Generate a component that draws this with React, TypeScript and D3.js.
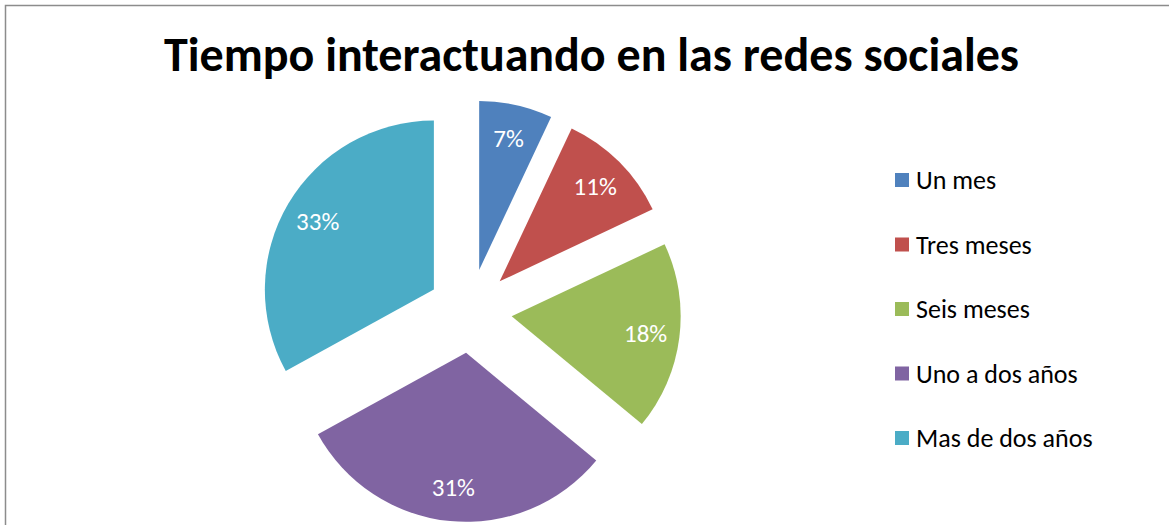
import React from "react";
import * as d3 from "d3";

const title = "Tiempo interactuando en las redes sociales";
const categories = ["Un mes", "Tres meses", "Seis meses", "Uno a dos años", "Mas de dos años"];
const values = [7, 11, 18, 31, 33];
const colors = ["#4F81BD", "#C0504D", "#9BBB59", "#8064A2", "#4BACC6"];

const W = 1169;
const H = 525;
const FONT = "Carlito, Calibri, Lato, 'Open Sans', sans-serif";

export default function App() {
  const cx = 470;
  const cy = 311;
  const r = 169;
  const explode = 42;
  const labelR = 135;

  const total = d3.sum(values);
  const pie = d3.pie<number>().sort(null).value((v) => v);
  const arcs = pie(values);
  const arcGen = d3.arc<d3.PieArcDatum<number>>().innerRadius(0).outerRadius(r);

  const legendY = d3.scalePoint<string>().domain(categories).range([180, 438]);

  return (
    <svg width={W} height={H} style={{ position: "absolute", left: 0, top: 0, background: "#fff" }}>
      <rect x={0} y={0} width={W} height={H} fill="#fff" />
      <rect x={5.5} y={5.5} width={W + 20} height={H + 20} fill="none" stroke="#8c8c8c" strokeWidth={1.5} />
      <text
        x={591.5}
        y={71}
        textAnchor="middle"
        fontFamily={FONT}
        fontWeight="bold"
        fontSize={48}
        fill="#000"
      >
        {title}
      </text>
      {arcs.map((a, i) => {
        const mid = (a.startAngle + a.endAngle) / 2;
        const dx = Math.sin(mid) * explode;
        const dy = -Math.cos(mid) * explode;
        const lx = Math.sin(mid) * labelR;
        const ly = -Math.cos(mid) * labelR;
        return (
          <g key={categories[i]} transform={`translate(${cx + dx},${cy + dy})`}>
            <path d={arcGen(a) || ""} fill={colors[i]} />
            <text
              x={lx}
              y={ly}
              dy="0.35em"
              textAnchor="middle"
              fontFamily={FONT}
              fontSize={25}
              fill="#fff"
            >
              {`${Math.round((values[i] / total) * 100)}%`}
            </text>
          </g>
        );
      })}
      {categories.map((c, i) => {
        const y = legendY(c) as number;
        return (
          <g key={c} transform={`translate(895,${y})`}>
            <rect x={0} y={-7} width={14} height={14} fill={colors[i]} />
            <text x={21} y={0} dy="0.35em" fontFamily={FONT} fontSize={26} fill="#000">
              {c}
            </text>
          </g>
        );
      })}
    </svg>
  );
}
